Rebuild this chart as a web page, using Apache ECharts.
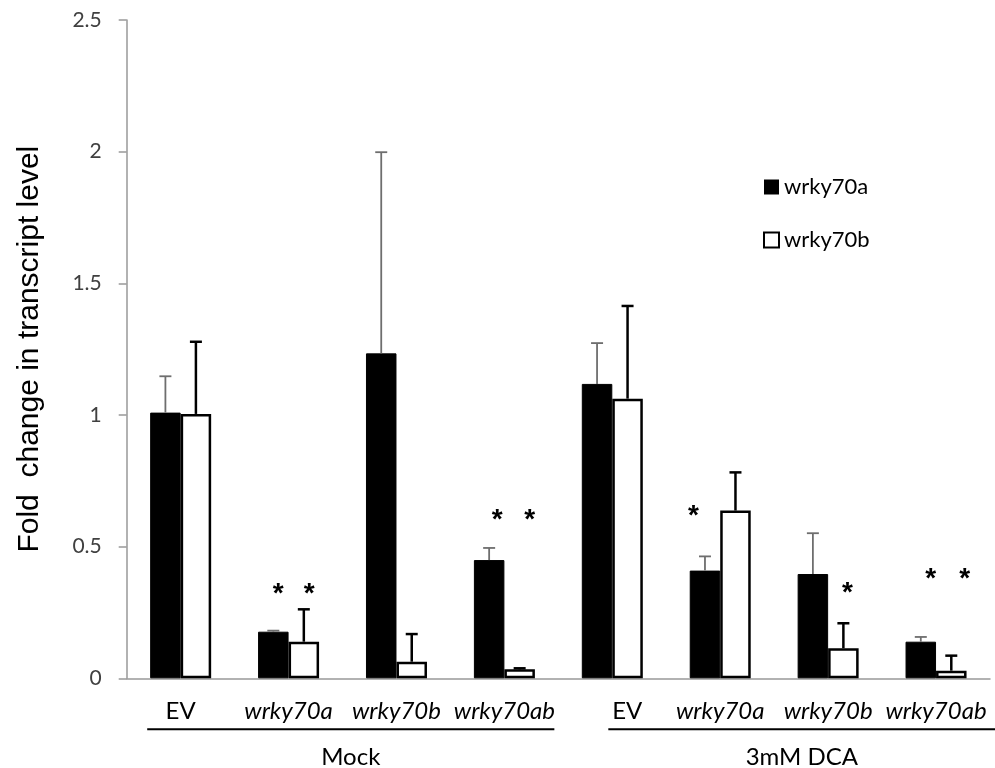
<!DOCTYPE html>
<html><head><meta charset="utf-8">
<script src="https://cdn.jsdelivr.net/npm/echarts@6/dist/echarts.min.js"></script>
<style>html,body{margin:0;padding:0;background:#fff}#c{width:995px;height:768px}</style>
</head><body><div id="c"></div>
<script>
// ---- data ----
const categories = ['EV', 'wrky70a', 'wrky70b', 'wrky70ab', 'EV', 'wrky70a', 'wrky70b', 'wrky70ab'];
const groups = ['Mock', '3mM DCA'];
const seriesNames = ['wrky70a', 'wrky70b'];
const wrky70aValues = [1.009, 0.177, 1.234, 0.449, 1.118, 0.409, 0.396, 0.139];
const wrky70aErrors = [0.138, 0.004, 0.764, 0.046, 0.155, 0.054, 0.155, 0.018];
const wrky70bValues = [1.004, 0.139, 0.063, 0.034, 1.062, 0.637, 0.114, 0.029];
const wrky70bErrors = [0.274, 0.123, 0.105, 0.004, 0.352, 0.145, 0.095, 0.057];
const yTicks = [0, 0.5, 1, 1.5, 2, 2.5];
// significance asterisks
const starCategory = [1, 1, 3, 3, 5, 6, 7, 7];
const starSeries = [0, 1, 0, 1, 0, 1, 0, 1];
const starY = [0.343, 0.343, 0.624, 0.624, 0.639, 0.347, 0.40, 0.40];

// ---- styling ----
const BAR_W = 30.5;
const starNudge = [5, 5.5, 8, 10, -11.5, 4, 10, 13.5];
const FONT = 'Lato';

const chart = echarts.init(document.getElementById('c'), null, {renderer: 'canvas'});

function errorSeries(name, values, errors, side, color, width) {
  return {
    type: 'custom',
    name: name + ' error',
    silent: true,
    z: 5,
    encode: {x: 0, y: [1, 2]},
    data: values.map((v, i) => [i, v, v + errors[i]]),
    renderItem: function (params, api) {
      const i = api.value(0);
      const b = api.coord([i, api.value(1)]);
      const t = api.coord([i, api.value(2)]);
      const x = b[0] + side * BAR_W / 2;
      const cap = 6;
      return {
        type: 'group',
        children: [
          {type: 'line', shape: {x1: x, y1: b[1], x2: x, y2: t[1]}, style: {stroke: color, lineWidth: width}},
          {type: 'line', shape: {x1: x - cap, y1: t[1], x2: x + cap, y2: t[1]}, style: {stroke: color, lineWidth: width}}
        ]
      };
    }
  };
}

const option = {
  backgroundColor: '#fff',
  animation: false,
  textStyle: {fontFamily: FONT},
  grid: {left: 126.7, right: 5, top: 20, bottom: 89.7, containLabel: false},
  legend: {
    orient: 'vertical',
    left: 758, top: 171,
    itemWidth: 15, itemHeight: 15, itemGap: 31,
    icon: 'rect',
    textStyle: {fontFamily: FONT, fontSize: 22, color: '#000', lineHeight: 22},
    data: [
      {name: seriesNames[0], itemStyle: {color: '#000', borderColor: '#000', borderWidth: 0}},
      {name: seriesNames[1], itemStyle: {color: '#fff', borderColor: '#000', borderWidth: 2}}
    ]
  },
  xAxis: {
    type: 'category',
    data: categories,
    boundaryGap: true,
    axisLine: {lineStyle: {color: '#999', width: 1.5}},
    axisTick: {show: false},
    axisLabel: {
      interval: 0,
      margin: 21,
      formatter: function (v, i) {
        if (v === 'EV') return i >= 4 ? '{ev2|EV}' : '{ev|EV}';
        return '{it|' + v + '}';
      },
      rich: {
        ev: {fontFamily: FONT, fontSize: 24, color: '#000', lineHeight: 24},
        ev2: {fontFamily: FONT, fontSize: 24, color: '#000', lineHeight: 24, padding: [0, 0, 0, 30]},
        it: {fontFamily: FONT, fontSize: 24, fontStyle: 'italic', color: '#000', lineHeight: 24}
      }
    }
  },
  yAxis: {
    type: 'value',
    min: 0, max: 2.5, interval: 0.5,
    name: 'Fold  change in transcript level',
    nameLocation: 'middle',
    nameRotate: 90,
    nameGap: 82,
    nameTextStyle: {fontFamily: 'Liberation Sans', fontSize: 30, color: '#000'},
    axisLine: {show: true, lineStyle: {color: '#999', width: 1.5}},
    axisTick: {show: true, length: 8, lineStyle: {color: '#999', width: 1.5}},
    splitLine: {show: false},
    axisLabel: {
      margin: 25,
      fontFamily: FONT, fontSize: 21, color: '#404040',
      formatter: function (v) { return String(v); },
      customValues: yTicks
    }
  },
  series: [
    {
      type: 'bar', name: seriesNames[0], data: wrky70aValues,
      barWidth: BAR_W, barGap: '0%',
      itemStyle: {color: '#000', borderColor: '#000', borderWidth: 1}
    },
    {
      type: 'bar', name: seriesNames[1], data: wrky70bValues,
      barWidth: BAR_W, barGap: '0%',
      itemStyle: {color: '#fff', borderColor: '#000', borderWidth: 2.5}
    },
    errorSeries(seriesNames[0], wrky70aValues, wrky70aErrors, -1, '#6e6e6e', 1.8),
    errorSeries(seriesNames[1], wrky70bValues, wrky70bErrors, 1, '#000', 2.5),
    {
      type: 'custom',
      name: 'stars',
      silent: true,
      z: 6,
      encode: {x: 0, y: 1},
      data: starCategory.map((c, k) => [c, starY[k], starSeries[k], k]),
      renderItem: function (params, api) {
        const p = api.coord([api.value(0), api.value(1)]);
        const s = api.value(2), k = api.value(3);
        const x = p[0] + (s === 0 ? -1 : 1) * BAR_W / 2 + starNudge[k];
        const fs = 28;
        return {
          type: 'text',
          style: {
            x: x, y: p[1] + fs * 0.22,
            text: '*', fontFamily: 'Liberation Sans', fontSize: fs, fontWeight: 'bold',
            fill: '#000', align: 'center', verticalAlign: 'middle'
          }
        };
      }
    }
  ]
};
chart.setOption(option);

// group brackets below the category labels, positioned through the axis scales
const c = i => chart.convertToPixel({xAxisIndex: 0}, i);
const step = c(1) - c(0);
const y0 = chart.convertToPixel({yAxisIndex: 0}, 0);
const spans = [
  [c(0) - 0.31 * step, c(3) + 0.463 * step],
  [c(4) - 0.037 * step, c(7) + 0.55 * step]
];
const graphic = [];
spans.forEach((s, g) => {
  graphic.push({type: 'line', silent: true, shape: {x1: s[0], y1: y0 + 51, x2: s[1], y2: y0 + 51}, style: {stroke: '#000', lineWidth: 2}});
  graphic.push({type: 'text', silent: true, style: {x: (s[0] + s[1]) / 2, y: y0 + 79, text: groups[g], fontFamily: FONT, fontSize: 24, fill: '#000', align: 'center', verticalAlign: 'middle'}});
});
chart.setOption({graphic: graphic});
</script>
</body></html>
